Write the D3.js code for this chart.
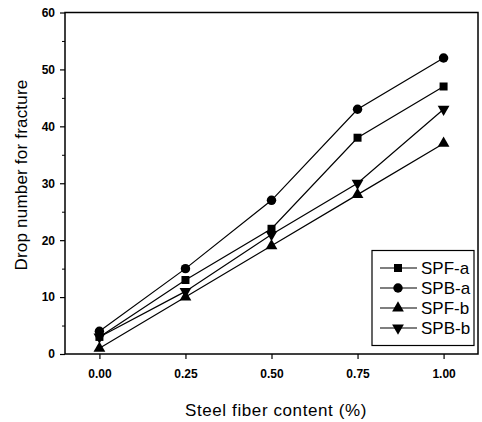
<!DOCTYPE html>
<html>
<head>
<meta charset="utf-8">
<script src="https://cdn.jsdelivr.net/npm/d3@7"></script>
<style>
  body { margin: 0; background: #fff; }
  text { font-family: "Liberation Sans", Arial, sans-serif; }
</style>
</head>
<body>
<div id="chart"></div>
<script>
var width = 482;
var height = 422;

// fiber content (%)
var content = [0, 0.25, 0.5, 0.75, 1.0];
var seriesNames = ["SPF-a", "SPB-a", "SPF-b", "SPB-b"];
var spfA = [3, 13, 22, 38, 47];
var spbA = [4, 15, 27, 43, 52];
var spfB = [1, 10, 19, 28, 37];
var spbB = [3, 11, 21, 30, 43];
var xTicks = [0, 0.25, 0.5, 0.75, 1.0];
var yTicks = [0, 10, 20, 30, 40, 50, 60];

var allSeries = [spfA, spbA, spfB, spbB];
var symbols = [d3.symbolSquare, d3.symbolCircle, d3.symbolTriangle, d3.symbolTriangle];
var symSizes = [64, 70, 60, 60];
var rotations = [0, 0, 0, 180];

var plotL = 65, plotR = 478, plotT = 12.5, plotB = 354;

var x = d3.scaleLinear().domain([-0.1, 1.1]).range([plotL, plotR]);
var y = d3.scaleLinear().domain([0, 60]).range([plotB, plotT]);

var svg = d3.select("#chart")
    .append("svg")
    .attr("width", width)
    .attr("height", height);

// frame
svg.append("rect")
    .attr("x", plotL).attr("y", plotT)
    .attr("width", plotR - plotL).attr("height", plotB - plotT)
    .attr("fill", "none").attr("stroke", "black").attr("stroke-width", 1.5);

// x axis
var xAxis = d3.axisBottom(x).tickValues(xTicks).tickSize(5).tickFormat(d3.format(".2f"));
var gx = svg.append("g")
    .attr("transform", "translate(0," + plotB + ")")
    .call(xAxis);
gx.select(".domain").remove();
gx.selectAll("line").attr("stroke-width", 1.2);
gx.selectAll("text")
    .attr("dy", "1.35em")
    .style("font-size", "12px").style("font-weight", "bold");

// y axis major
var yAxis = d3.axisLeft(y).tickValues(yTicks).tickSize(5);
var gy = svg.append("g")
    .attr("transform", "translate(" + plotL + ",0)")
    .call(yAxis);
gy.select(".domain").remove();
gy.selectAll("line").attr("stroke-width", 1.2);
gy.selectAll("text")
    .attr("x", -10)
    .style("font-size", "12px").style("font-weight", "bold");

// y axis minor
var gyMinor = svg.append("g")
    .attr("transform", "translate(" + plotL + ",0)")
    .call(d3.axisLeft(y).tickValues(d3.range(5, 60, 10)).tickSize(3).tickFormat(""));
gyMinor.select(".domain").remove();

// lines and markers
var line = d3.line()
    .x(function(d, i) { return x(content[i]); })
    .y(function(d) { return y(d); });

allSeries.forEach(function(vals, s) {
    svg.append("path")
        .datum(vals)
        .attr("d", line)
        .attr("fill", "none")
        .attr("stroke", "black")
        .attr("stroke-width", 1.2);

    svg.selectAll(".m" + s)
        .data(vals)
        .enter()
        .append("path")
        .attr("class", "m" + s)
        .attr("d", d3.symbol().type(symbols[s]).size(symSizes[s]))
        .attr("transform", function(d, i) {
            return "translate(" + x(content[i]) + "," + y(d) + ") rotate(" + rotations[s] + ")";
        })
        .attr("fill", "black");
});

// legend
var lg = svg.append("g");
lg.append("rect")
    .attr("x", 372).attr("y", 250.5)
    .attr("width", 102).attr("height", 95)
    .attr("fill", "white").attr("stroke", "black").attr("stroke-width", 1.2);

seriesNames.forEach(function(name, s) {
    var ly = 268 + s * 20;
    lg.append("line")
        .attr("x1", 380).attr("x2", 417)
        .attr("y1", ly).attr("y2", ly)
        .attr("stroke", "black").attr("stroke-width", 1.2);
    lg.append("path")
        .attr("d", d3.symbol().type(symbols[s]).size(symSizes[s]))
        .attr("transform", "translate(398," + ly + ") rotate(" + rotations[s] + ")")
        .attr("fill", "black");
    lg.append("text")
        .attr("x", 421).attr("y", ly)
        .attr("dy", "0.36em")
        .style("font-size", "17px")
        .text(name);
});

// axis titles
svg.append("text")
    .attr("x", 276).attr("y", 416)
    .attr("text-anchor", "middle")
    .style("font-size", "17px")
    .style("letter-spacing", "0.6px")
    .text("Steel fiber content (%)");

svg.append("text")
    .attr("transform", "translate(27,175) rotate(-90)")
    .attr("text-anchor", "middle")
    .style("font-size", "17px")
    .style("letter-spacing", "0.2px")
    .text("Drop number for fracture");
</script>
</body>
</html>
